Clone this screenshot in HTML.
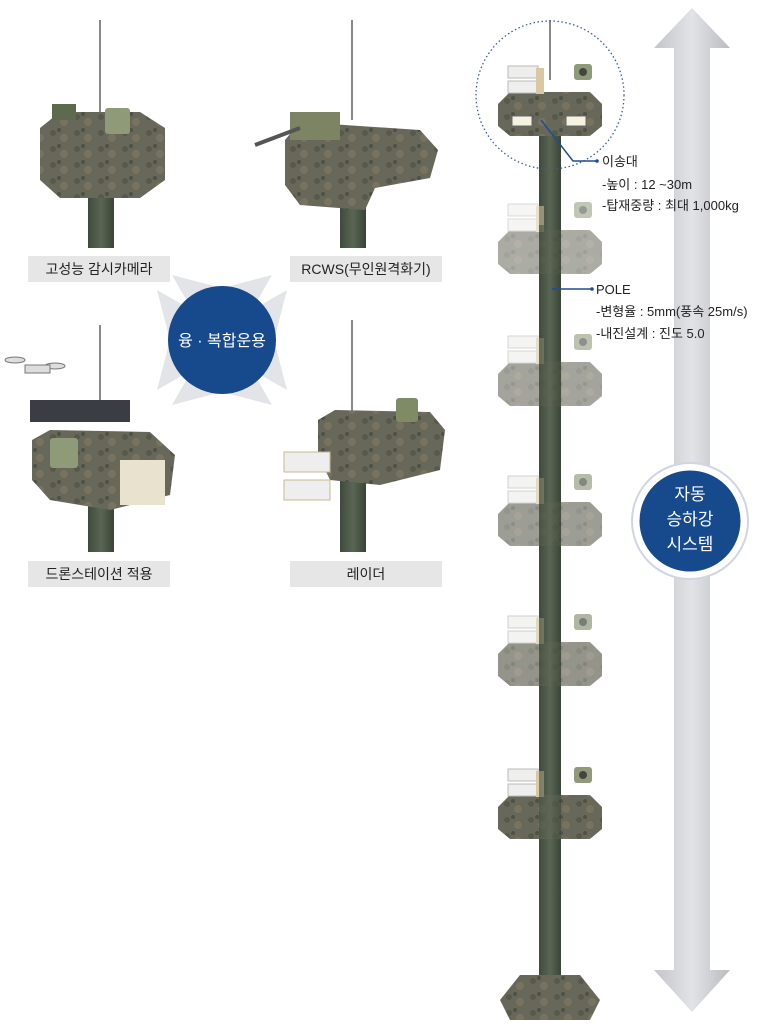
<!DOCTYPE html>
<html><head><meta charset="utf-8"><style>
html,body{margin:0;padding:0;background:#fff;}
svg{display:block;font-family:"Liberation Sans","Noto Sans CJK KR",sans-serif;}
</style></head><body>
<svg width="770" height="1028" viewBox="0 0 770 1028" xmlns="http://www.w3.org/2000/svg">
<defs>
<linearGradient id="arr" x1="0" x2="1"><stop offset="0" stop-color="#c4c5c8"/><stop offset="0.5" stop-color="#e2e3e6"/><stop offset="1" stop-color="#babbbf"/></linearGradient>
<linearGradient id="pole" x1="0" x2="1"><stop offset="0" stop-color="#3f4a3c"/><stop offset="0.5" stop-color="#5a6653"/><stop offset="1" stop-color="#3a4437"/></linearGradient>
<pattern id="cam" width="24" height="16" patternUnits="userSpaceOnUse"><rect width="24" height="16" fill="#67685a"/><circle cx="5" cy="5" r="3" fill="#57594b"/><circle cx="16" cy="10" r="4" fill="#78725f"/><circle cx="11" cy="2" r="2" fill="#4d5043"/></pattern>
<g id="plat">
<polygon points="-52,-8 -40,-20 40,-20 52,-8 52,14 40,24 -40,24 -52,14" fill="url(#cam)"/>
<rect x="-42" y="-46" width="30" height="12" fill="#eeeeec" stroke="#bbb"/>
<rect x="-42" y="-31" width="30" height="12" fill="#eeeeec" stroke="#bbb"/>
<rect x="-14" y="-44" width="8" height="26" fill="#d8c9a3"/>
<rect x="24" y="-48" width="18" height="16" rx="3" fill="#8e9a78"/>
<circle cx="33" cy="-40" r="4" fill="#444"/>
</g>
</defs>
<rect width="770" height="1028" fill="#fff"/>

<polygon points="692,8 730,48 710,48 710,970 730,970 692,1012 654,970 674,970 674,48 654,48" fill="url(#arr)"/>

<rect x="539" y="100" width="22" height="880" fill="url(#pole)"/>
<line x1="550" y1="20" x2="550" y2="80" stroke="#888" stroke-width="2"/>
<polygon points="520,975 580,975 600,1000 590,1020 510,1020 500,1000" fill="url(#cam)"/>

<g transform="translate(550,112)"><use href="#plat"/></g>
<rect x="512" y="116" width="20" height="10" fill="#f5f2e2" stroke="#666"/>
<rect x="566" y="116" width="20" height="10" fill="#f5f2e2" stroke="#666"/>
<g transform="translate(550,250)" opacity="0.55"><use href="#plat"/></g>
<g transform="translate(550,382)" opacity="0.6"><use href="#plat"/></g>
<g transform="translate(550,522)" opacity="0.65"><use href="#plat"/></g>
<g transform="translate(550,662)" opacity="0.7"><use href="#plat"/></g>
<g transform="translate(550,815)"><use href="#plat"/></g>
<rect x="539" y="225" width="22" height="620" fill="url(#pole)" opacity="0.6"/>

<circle cx="550" cy="95" r="74" fill="none" stroke="#3a5aa8" stroke-width="1.3" stroke-dasharray="1.5,2.5"/>
<polyline points="541,120 573,161 597,161" fill="none" stroke="#1f4d91" stroke-width="1.5"/>
<circle cx="597" cy="161" r="1.8" fill="#1f4d91"/>
<line x1="552" y1="289" x2="592" y2="289" stroke="#1f4d91" stroke-width="1.5"/>
<circle cx="592" cy="289" r="1.8" fill="#1f4d91"/>
<g font-size="13" fill="#222">
<text x="602" y="166">이송대</text>
<text x="602" y="189">-높이 : 12 ~30m</text>
<text x="602" y="210">-탑재중량 : 최대 1,000kg</text>
<text x="596" y="294">POLE</text>
<text x="596" y="316">-변형율 : 5mm(풍속 25m/s)</text>
<text x="596" y="338">-내진설계 : 진도 5.0</text>
</g>

<circle cx="690" cy="521" r="58" fill="#fff" stroke="#d0d5e3" stroke-width="2"/>
<circle cx="690" cy="521" r="52" fill="#164a8c" stroke="#fff" stroke-width="3"/>
<g fill="#fff" font-size="17" text-anchor="middle">
<text x="690" y="500">자동</text><text x="690" y="525">승하강</text><text x="690" y="550">시스템</text>
</g>

<g>
<line x1="100" y1="20" x2="100" y2="120" stroke="#888" stroke-width="2"/>
<rect x="88" y="180" width="26" height="68" fill="url(#pole)"/>
<polygon points="40,128 60,112 140,112 165,128 165,180 140,198 60,198 40,180" fill="url(#cam)"/>
<rect x="52" y="104" width="24" height="16" fill="#5e6a4e"/><rect x="105" y="108" width="25" height="26" rx="3" fill="#8e9a78"/>
</g>
<g>
<line x1="352" y1="20" x2="352" y2="120" stroke="#888" stroke-width="2"/>
<rect x="340" y="190" width="26" height="58" fill="url(#pole)"/>
<polygon points="285,140 300,122 420,130 438,150 430,178 375,188 365,210 300,205 285,185" fill="url(#cam)"/>
<rect x="290" y="112" width="50" height="28" fill="#7d8464"/><line x1="255" y1="145" x2="300" y2="128" stroke="#555" stroke-width="4"/>
</g>
<g>
<line x1="100" y1="325" x2="100" y2="405" stroke="#888" stroke-width="2"/>
<rect x="30" y="400" width="100" height="22" fill="#3a3d44"/>
<rect x="88" y="480" width="26" height="72" fill="url(#pole)"/>
<polygon points="32,440 50,430 150,432 175,455 170,495 130,505 110,510 50,500 32,480" fill="url(#cam)"/>
<rect x="120" y="460" width="45" height="45" fill="#e9e2cf"/>
<rect x="50" y="438" width="28" height="30" rx="3" fill="#8e9a78"/>
<g fill="#ddd" stroke="#777"><ellipse cx="15" cy="360" rx="10" ry="3"/><ellipse cx="55" cy="366" rx="10" ry="3"/><rect x="25" y="365" width="25" height="8"/></g>
</g>
<g>
<line x1="352" y1="320" x2="352" y2="415" stroke="#888" stroke-width="2"/>
<rect x="340" y="480" width="26" height="72" fill="url(#pole)"/>
<polygon points="318,420 335,410 430,412 445,430 440,470 380,485 330,480 318,455" fill="url(#cam)"/>
<rect x="284" y="452" width="46" height="20" fill="#eee" stroke="#c8b890"/><rect x="284" y="480" width="46" height="20" fill="#eee" stroke="#c8b890"/>
<rect x="396" y="398" width="22" height="24" rx="3" fill="#7e8b64"/>
</g>

<g transform="translate(222,340)">
<polygon points="-65,-50 -30,-30 -50,-65 0,-52 50,-65 30,-30 65,-50 52,0 65,50 30,30 50,65 0,52 -50,65 -30,30 -65,50 -52,0" fill="#e3e4e8"/>
<circle r="54" fill="#164a8c"/>
<text y="6" fill="#fff" font-size="16" text-anchor="middle">융 · 복합운용</text>
</g>

<g font-size="14" fill="#222" text-anchor="middle">
<rect x="28" y="256" width="142" height="26" fill="#e6e6e6"/><text x="99" y="274">고성능 감시카메라</text>
<rect x="290" y="256" width="152" height="26" fill="#e6e6e6"/><text x="366" y="274">RCWS(무인원격화기)</text>
<rect x="28" y="561" width="142" height="26" fill="#e6e6e6"/><text x="99" y="579">드론스테이션 적용</text>
<rect x="290" y="561" width="152" height="26" fill="#e6e6e6"/><text x="366" y="579">레이더</text>
</g>
</svg>
</body></html>
